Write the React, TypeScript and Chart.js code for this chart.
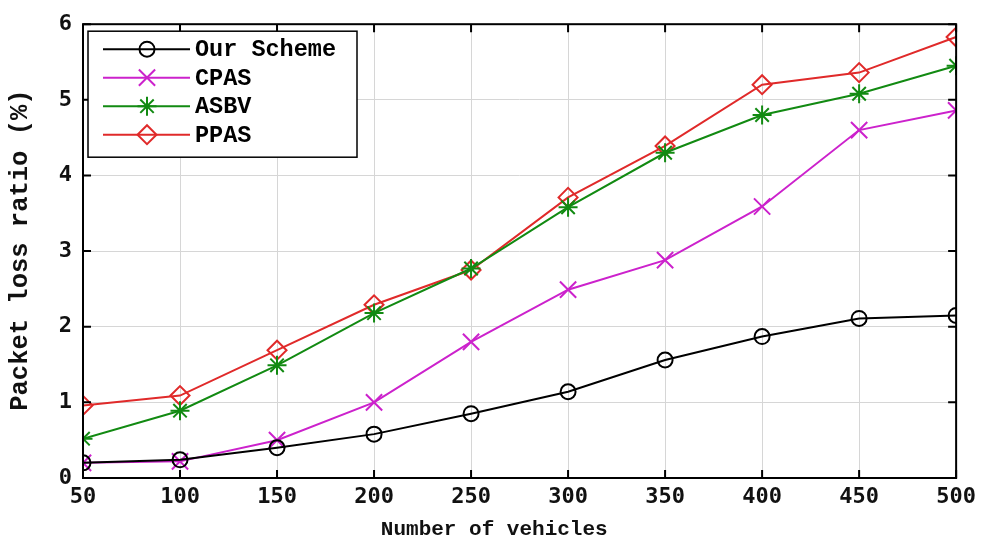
import React, { useEffect, useRef } from "react";
import { Chart, registerables } from "chart.js";
import { drawPoint } from "chart.js/helpers";

Chart.register(...registerables);

const vehicles = [50, 100, 150, 200, 250, 300, 350, 400, 450, 500];
const ourScheme = [0.2, 0.24, 0.4, 0.58, 0.85, 1.14, 1.56, 1.87, 2.11, 2.15];
const cpas = [0.2, 0.22, 0.5, 1.0, 1.8, 2.49, 2.88, 3.59, 4.6, 4.86];
const asbv = [0.52, 0.89, 1.49, 2.18, 2.77, 3.58, 4.3, 4.8, 5.08, 5.45];
const ppas = [0.96, 1.09, 1.69, 2.29, 2.75, 3.71, 4.39, 5.2, 5.36, 5.83];

const seriesNames = ["Our Scheme", "CPAS", "ASBV", "PPAS"];
const seriesColors = ["#000000", "#cc22cc", "#128a12", "#e02a2a"];
const seriesMarkers = ["circle", "crossRot", "star", "rectRot"];
const seriesRadius = [7.5, 11.5, 9.5, 9.5];
const seriesValues = [ourScheme, cpas, asbv, ppas];

const yTicks = [0, 1, 2, 3, 4, 5, 6];
const xTitle = "Number of vehicles";
const yTitle = "Packet loss ratio (%)";

const MONO = "'Liberation Mono', 'DejaVu Sans Mono', monospace";
const TICKFONT = "'DejaVu Sans Mono', 'Liberation Mono', monospace";

const framePlugin = {
  id: "frame",
  afterDraw(chart: any) {
    const ctx = chart.ctx;
    const ca = chart.chartArea;
    const xs = chart.scales.x;
    const ys = chart.scales.y;
    ctx.save();
    // inward ticks
    ctx.strokeStyle = "#000";
    ctx.lineWidth = 2;
    const tl = 8;
    ctx.beginPath();
    vehicles.forEach((v) => {
      const px = xs.getPixelForValue(v);
      ctx.moveTo(px, ca.bottom);
      ctx.lineTo(px, ca.bottom - tl);
      ctx.moveTo(px, ca.top);
      ctx.lineTo(px, ca.top + tl);
    });
    yTicks.forEach((v) => {
      const py = ys.getPixelForValue(v);
      ctx.moveTo(ca.left, py);
      ctx.lineTo(ca.left + tl, py);
      ctx.moveTo(ca.right, py);
      ctx.lineTo(ca.right - tl, py);
    });
    ctx.stroke();
    ctx.lineWidth = 2;
    ctx.strokeRect(ca.left, ca.top, ca.right - ca.left, ca.bottom - ca.top);

    // axis titles
    ctx.fillStyle = "#111";
    ctx.textAlign = "center";
    ctx.textBaseline = "middle";
    ctx.font = `bold 21px ${MONO}`;
    ctx.fillText(xTitle, ca.left + (ca.right - ca.left) * 0.471, 530);
    ctx.save();
    ctx.translate(21, (ca.top + ca.bottom) / 2 - 1);
    ctx.rotate(-Math.PI / 2);
    ctx.font = `bold 25.5px ${MONO}`;
    ctx.fillText(yTitle, 0, 0);
    ctx.restore();

    // legend
    const bx = ca.left + 5;
    const by = ca.top + 7;
    const bw = 269;
    const bh = 126;
    ctx.fillStyle = "#fff";
    ctx.fillRect(bx, by, bw, bh);
    ctx.strokeStyle = "#000";
    ctx.lineWidth = 1.5;
    ctx.strokeRect(bx, by, bw, bh);
    ctx.textBaseline = "middle";
    ctx.textAlign = "left";
    seriesNames.forEach((name, i) => {
      const ry = by + 18 + i * 28.5;
      ctx.strokeStyle = seriesColors[i];
      ctx.lineWidth = 2;
      ctx.beginPath();
      ctx.moveTo(bx + 15, ry);
      ctx.lineTo(bx + 102, ry);
      ctx.stroke();
      ctx.fillStyle = "rgba(0,0,0,0)";
      drawPoint(
        ctx,
        {
          pointStyle: seriesMarkers[i],
          radius: seriesRadius[i],
          rotation: 0,
          borderWidth: 2,
        } as any,
        bx + 59,
        ry
      );
      ctx.fillStyle = "#000";
      ctx.font = `bold 23.5px ${MONO}`;
      ctx.fillText(name, bx + 107, ry + 1);
    });
    ctx.restore();
  },
};

export default function App() {
  const ref = useRef<HTMLCanvasElement>(null);
  useEffect(() => {
    if (!ref.current) return;
    const chart = new Chart(ref.current, {
      type: "line",
      data: {
        datasets: seriesNames.map((name, i) => ({
          label: name,
          data: vehicles.map((v, j) => ({ x: v, y: seriesValues[i][j] })),
          borderColor: seriesColors[i],
          backgroundColor: "rgba(0,0,0,0)",
          pointBorderColor: seriesColors[i],
          pointBackgroundColor: "rgba(0,0,0,0)",
          pointStyle: seriesMarkers[i] as any,
          pointRadius: seriesRadius[i],
          pointBorderWidth: 2,
          borderWidth: 2,
          tension: 0,
          fill: false,
        })),
      },
      options: {
        animation: false,
        responsive: true,
        maintainAspectRatio: false,
        layout: { padding: { top: 20, right: 24, left: 0, bottom: 0 } },
        plugins: {
          legend: { display: false },
          tooltip: { enabled: false },
        },
        scales: {
          x: {
            type: "linear",
            min: 50,
            max: 500,
            afterFit: (s: any) => {
              s.height = 66;
            },
            afterBuildTicks: (s: any) => {
              s.ticks = vehicles.map((v) => ({ value: v }));
            },
            grid: { color: "#d6d6d6", lineWidth: 1, drawTicks: false },
            border: { display: false },
            ticks: {
              padding: 6,
              color: "#111",
              font: { family: TICKFONT, size: 22, weight: "bold" },
              maxRotation: 0,
            },
          },
          y: {
            type: "linear",
            min: 0,
            max: 6,
            afterFit: (s: any) => {
              s.width = 83;
            },
            afterBuildTicks: (s: any) => {
              s.ticks = yTicks.map((v) => ({ value: v }));
            },
            grid: { color: "#d6d6d6", lineWidth: 1, drawTicks: false },
            border: { display: false },
            ticks: {
              padding: 11,
              color: "#111",
              font: { family: TICKFONT, size: 22, weight: "bold" },
            },
          },
        },
      },
      plugins: [framePlugin],
    });
    return () => chart.destroy();
  }, []);
  return (
    <div
      style={{
        position: "fixed",
        left: 0,
        top: 0,
        width: 982,
        height: 544,
        background: "#fff",
      }}
    >
      <canvas ref={ref} />
    </div>
  );
}
